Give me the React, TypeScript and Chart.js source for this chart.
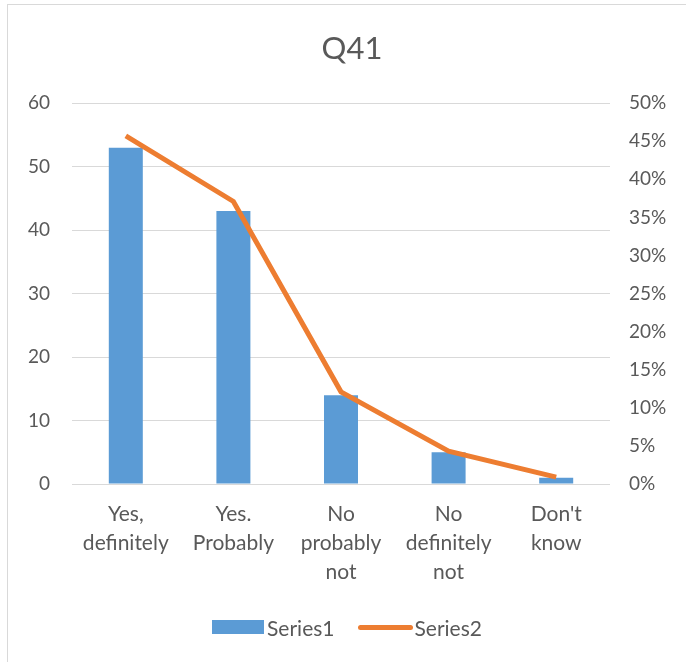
import React, { useEffect, useRef } from "react";
import { Chart, registerables } from "chart.js";

Chart.register(...registerables);

const categories: string[][] = [
  ["Yes,", "definitely"],
  ["Yes.", "Probably"],
  ["No", "probably", "not"],
  ["No", "definitely", "not"],
  ["Don't", "know"],
];
const series1: number[] = [53, 43, 14, 5, 1];
const series2: number[] = [0.457, 0.371, 0.121, 0.043, 0.009];
const seriesNames: string[] = ["Series1", "Series2"];
const leftTicks = { min: 0, max: 60, step: 10 };
const rightTicks = { min: 0, max: 0.5, step: 0.05 };

const FONT = "Lato, 'Noto Sans', sans-serif";
const TXT = "#595959";
const BLUE = "#5B9BD5";
const ORANGE = "#ED7D31";

export default function App() {
  const ref = useRef<HTMLCanvasElement | null>(null);
  useEffect(() => {
    if (!ref.current) return;
    const chart = new Chart(ref.current, {
      type: "bar",
      data: {
        labels: categories as any,
        datasets: [
          {
            type: "bar",
            label: seriesNames[0],
            data: series1,
            backgroundColor: BLUE,
            borderWidth: 0,
            categoryPercentage: 1,
            barPercentage: 0.316,
            yAxisID: "y",
            order: 1,
          } as any,
          {
            type: "line",
            label: seriesNames[1],
            data: series2,
            borderColor: ORANGE,
            backgroundColor: ORANGE,
            borderWidth: 5,
            pointRadius: 0,
            tension: 0,
            yAxisID: "y1",
            order: 0,
          } as any,
        ],
      },
      options: {
        animation: false,
        responsive: false,
        maintainAspectRatio: false,
        layout: { padding: { left: 18, right: 0, top: 0, bottom: 54 } },
        plugins: {
          tooltip: { enabled: false },
          title: {
            display: true,
            text: "Q41",
            color: TXT,
            font: { family: FONT, size: 31, weight: "normal" as any },
            padding: { top: 30, bottom: 36 },
          },
          legend: { display: false },
        },
        scales: {
          x: {
            grid: { display: false, drawTicks: false },
            border: { display: false },
            ticks: {
              color: TXT,
              font: { family: FONT, size: 21, lineHeight: 29 / 21 },
              padding: 16,
              maxRotation: 0,
              autoSkip: false,
            },
            afterFit: (s: any) => {
              s.height = 124;
            },
          },
          y: {
            position: "left",
            min: leftTicks.min,
            max: leftTicks.max,
            grid: { color: "#d9d9d9", lineWidth: 1, drawTicks: false },
            border: { display: false },
            ticks: {
              stepSize: leftTicks.step,
              color: TXT,
              font: { family: FONT, size: 19 },
              padding: 22,
            },
            afterFit: (s: any) => {
              s.width = 54;
            },
          },
          y1: {
            position: "right",
            min: rightTicks.min,
            max: rightTicks.max,
            grid: { display: false, drawTicks: false },
            border: { display: false },
            ticks: {
              stepSize: rightTicks.step,
              color: TXT,
              font: { family: FONT, size: 19 },
              padding: 19,
              callback: (v: any) => Math.round(Number(v) * 100) + "%",
            },
            afterFit: (s: any) => {
              s.width = 76;
            },
          },
        },
      },
    });
    return () => chart.destroy();
  }, []);
  return (
    <div style={{ position: "fixed", left: 0, top: 0, width: 686, height: 662, background: "#fff" }}>
      <div
        style={{
          position: "absolute",
          left: 7,
          top: 4,
          width: 700,
          height: 700,
          border: "1px solid #d9d9d9",
        }}
      />
      <canvas ref={ref} width={686} height={662} style={{ position: "absolute", left: 0, top: 0 }} />
      <div
        style={{
          position: "absolute",
          left: 0,
          top: 613,
          width: 686,
          height: 28,
          display: "flex",
          justifyContent: "center",
          alignItems: "center",
          fontFamily: FONT,
          fontSize: 21,
          color: TXT,
          paddingLeft: 8,
          boxSizing: "border-box",
        }}
      >
        <span style={{ display: "inline-block", width: 52, height: 14, background: BLUE, marginRight: 3 }} />
        <span>{seriesNames[0]}</span>
        <span
          style={{
            display: "inline-block",
            width: 55,
            height: 5,
            borderRadius: 3,
            background: ORANGE,
            marginLeft: 23,
            marginRight: 2,
          }}
        />
        <span>{seriesNames[1]}</span>
      </div>
    </div>
  );
}
